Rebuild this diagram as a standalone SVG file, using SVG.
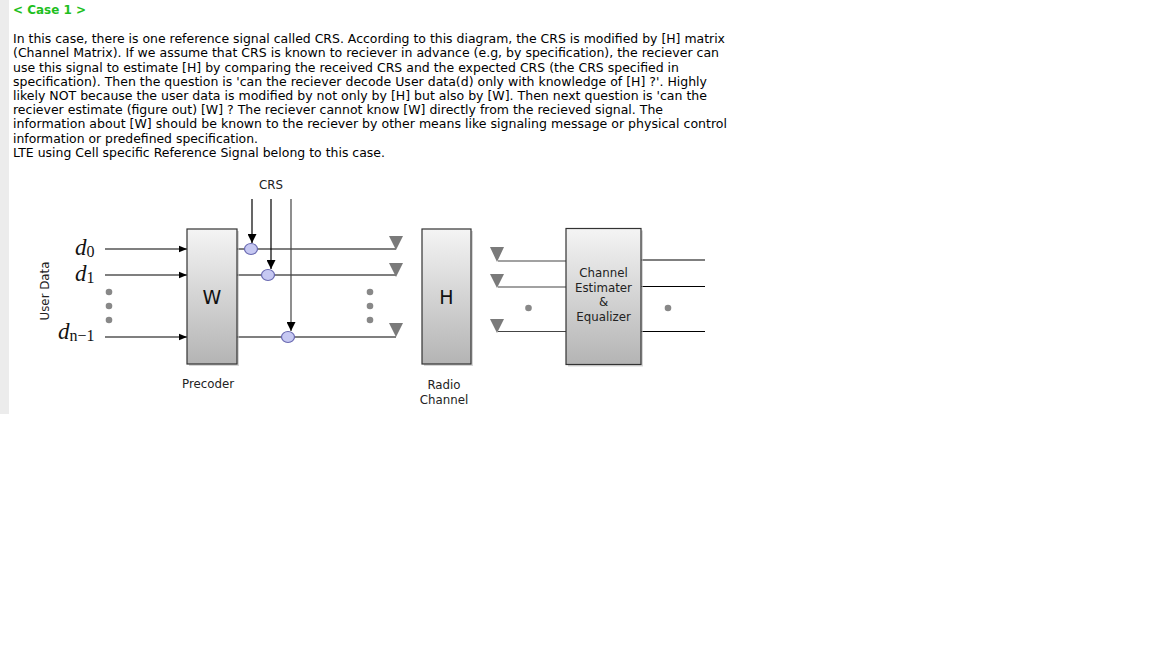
<svg xmlns="http://www.w3.org/2000/svg" width="1152" height="648" viewBox="0 0 1152 648">
<defs>
<linearGradient id="boxg" x1="0" y1="0" x2="0" y2="1">
<stop offset="0" stop-color="#f4f4f4"/>
<stop offset="1" stop-color="#b4b4b4"/>
</linearGradient>
<marker id="ah" viewBox="0 0 10 10" refX="10" refY="5" markerWidth="8" markerHeight="8" markerUnits="userSpaceOnUse" orient="auto">
<path d="M0,1 L10,5 L0,9 Z" fill="#000"/>
</marker>
<marker id="ahv" viewBox="0 0 10 10" refX="10" refY="5" markerWidth="9" markerHeight="9" markerUnits="userSpaceOnUse" orient="auto">
<path d="M0,0 L10,5 L0,10 Z" fill="#000"/>
</marker>
</defs>
<style>
.p{font-family:"DejaVu Sans","Verdana",sans-serif;font-size:12.5px;fill:#000}
.s{font-family:"DejaVu Sans","Verdana",sans-serif;font-size:11.8px;fill:#222;text-anchor:middle}
.box{fill:url(#boxg);stroke:#333;stroke-width:1.2}
.sh{fill:#bbb;opacity:0.6}
.big{font-family:"DejaVu Sans",sans-serif;font-size:19px;fill:#111;text-anchor:middle}
.ln{stroke:#000;stroke-width:1.2;fill:none}
.lg{stroke:#444;stroke-width:1.2;fill:none}
.dot{fill:#888}
.ant{fill:#7a7a7a}
.crc{fill:#c6c8f2;stroke:#6868b0;stroke-width:1.2}
.m{font-family:"Liberation Serif","DejaVu Serif",serif;font-size:23px;font-style:italic;fill:#111}
.sub{font-style:normal;font-size:16px}
</style>
<rect x="0" y="0" width="9" height="414" fill="#ececec"/>
<text x="13" y="14" font-family="DejaVu Sans, Verdana, sans-serif" font-size="12.5" font-weight="bold" fill="#1fbf1f" textLength="73" lengthAdjust="spacingAndGlyphs">&lt; Case 1 &gt;</text>
<g id="paragraph">
<text class="p" x="13" y="43" textLength="712" lengthAdjust="spacingAndGlyphs">In this case, there is one reference signal called CRS. According to this diagram, the CRS is modified by [H] matrix</text>
<text class="p" x="13" y="57" textLength="706" lengthAdjust="spacingAndGlyphs">(Channel Matrix). If we assume that CRS is known to reciever in advance (e.g, by specification), the reciever can</text>
<text class="p" x="13" y="71.5" textLength="666" lengthAdjust="spacingAndGlyphs">use this signal to estimate [H] by comparing the received CRS and the expected CRS (the CRS specified in</text>
<text class="p" x="13" y="85.5" textLength="694" lengthAdjust="spacingAndGlyphs">specification). Then the question is 'can the reciever decode User data(d) only with knowledge of [H] ?'. Highly</text>
<text class="p" x="13" y="100" textLength="694" lengthAdjust="spacingAndGlyphs">likely NOT because the user data is modified by not only by [H] but also by [W]. Then next question is 'can the</text>
<text class="p" x="13" y="114" textLength="650" lengthAdjust="spacingAndGlyphs">reciever estimate (figure out) [W] ? The reciever cannot know [W] directly from the recieved signal. The</text>
<text class="p" x="13" y="128" textLength="714" lengthAdjust="spacingAndGlyphs">information about [W] should be known to the reciever by other means like signaling message or physical control</text>
<text class="p" x="13" y="142.5" textLength="245" lengthAdjust="spacingAndGlyphs">information or predefined specification.</text>
<text class="p" x="13" y="157" textLength="372" lengthAdjust="spacingAndGlyphs">LTE using Cell specific Reference Signal belong to this case.</text>
</g>
<g id="user-data">
<text class="s" transform="translate(49,291) rotate(-90)">User Data</text>
<text class="m" x="75" y="255">d<tspan class="sub" dy="2">0</tspan></text>
<text class="m" x="75" y="281">d<tspan class="sub" dy="2">1</tspan></text>
<text class="m" x="58" y="339">d<tspan class="sub" dy="2">n−1</tspan></text>
<circle class="dot" cx="109" cy="292" r="3.3"/>
<circle class="dot" cx="109" cy="306" r="3.3"/>
<circle class="dot" cx="109" cy="320" r="3.3"/>
</g>
<g id="connectors">
<line class="ln" x1="105" y1="249" x2="187" y2="249" marker-end="url(#ah)"/>
<line class="ln" x1="105" y1="275" x2="187" y2="275" marker-end="url(#ah)"/>
<line class="ln" x1="105" y1="337" x2="187" y2="337" marker-end="url(#ah)"/>
<line class="ln" x1="237" y1="249" x2="396" y2="249"/>
<line class="ln" x1="237" y1="275" x2="396" y2="275"/>
<line class="ln" x1="237" y1="337" x2="396" y2="337"/>
<line class="ln" x1="252" y1="199" x2="252" y2="243" marker-end="url(#ahv)"/>
<line class="ln" x1="271" y1="199" x2="271" y2="269" marker-end="url(#ahv)"/>
<line class="lg" x1="291" y1="199" x2="291" y2="331" marker-end="url(#ahv)"/>
<line class="lg" x1="498" y1="261" x2="566" y2="261"/>
<line class="lg" x1="498" y1="287" x2="566" y2="287"/>
<line class="lg" x1="498" y1="331.5" x2="566" y2="331.5"/>
<line class="ln" x1="640" y1="260" x2="705" y2="260"/>
<line class="ln" x1="640" y1="286.5" x2="705" y2="286.5"/>
<line class="ln" x1="640" y1="331.5" x2="705" y2="331.5"/>
</g>
<g id="crs">
<text class="s" x="271" y="189">CRS</text>
<ellipse class="crc" cx="251" cy="249" rx="6.5" ry="5.5"/>
<ellipse class="crc" cx="268" cy="275" rx="6.5" ry="5.5"/>
<ellipse class="crc" cx="288" cy="337" rx="6.5" ry="5.5"/>
</g>
<g id="precoder">
<rect class="sh" x="189" y="231" width="50" height="135"/>
<rect class="box" x="187" y="229" width="50" height="135"/>
<text class="big" x="212" y="304">W</text>
<text class="s" x="208" y="388">Precoder</text>
</g>
<g id="tx-antennas">
<polygon class="ant" points="389,236 403,236 396,250"/>
<polygon class="ant" points="389,263 403,263 396,277"/>
<polygon class="ant" points="389,323 403,323 396,337"/>
<circle class="dot" cx="370" cy="292" r="3.3"/>
<circle class="dot" cx="370" cy="306" r="3.3"/>
<circle class="dot" cx="370" cy="320" r="3.3"/>
</g>
<g id="radio-channel">
<rect class="sh" x="424" y="231" width="49" height="135"/>
<rect class="box" x="422" y="229" width="49" height="135"/>
<text class="big" x="446.5" y="304">H</text>
<text class="s" x="444" y="389">Radio</text>
<text class="s" x="444" y="404">Channel</text>
</g>
<g id="rx-antennas">
<polygon class="ant" points="490,247 504,247 497,262"/>
<polygon class="ant" points="490,274 504,274 497,288"/>
<polygon class="ant" points="490,319 504,319 497,333"/>
<circle class="dot" cx="528.5" cy="308" r="3.3"/>
</g>
<g id="estimator">
<rect class="sh" x="568" y="230.5" width="75" height="136"/>
<rect class="box" x="566" y="228.5" width="75" height="136"/>
<text class="s" x="603.5" y="277">Channel</text>
<text class="s" x="603.5" y="291.5">Estimater</text>
<text class="s" x="603.5" y="306">&amp;</text>
<text class="s" x="603.5" y="320.5">Equalizer</text>
<circle class="dot" cx="668" cy="308" r="3.3"/>
</g>
</svg>
